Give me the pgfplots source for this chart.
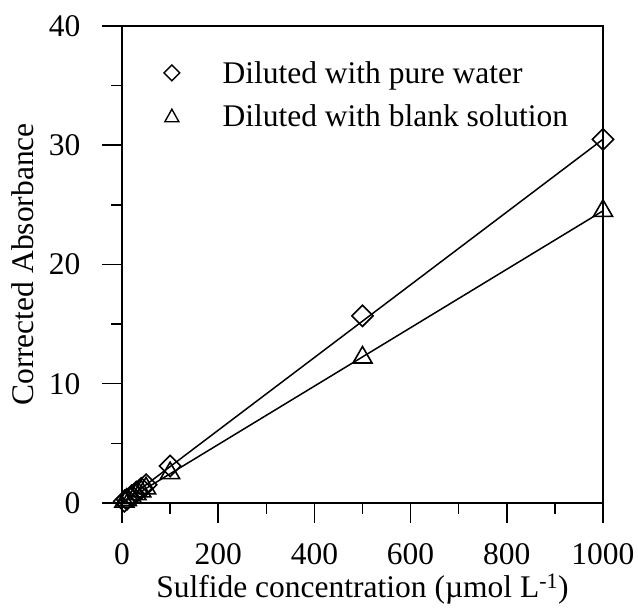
\documentclass[border=0pt]{standalone}
\usepackage{pgfplots}
\pgfplotsset{compat=1.18}
\usepackage{fontspec}
\setmainfont{Liberation Serif}

% calibration data: corrected absorbance vs sulfide concentration
\pgfplotstableread{
x    y
5    0.15
10   0.31
20   0.61
30   0.92
40   1.22
50   1.53
100  3.1
500  15.7
1000 30.5
}\purewater
\pgfplotstableread{
x    y
5    0.12
10   0.25
20   0.49
30   0.74
40   0.98
50   1.23
100  2.5
500  12.2
1000 24.5
}\blanksol

\begin{document}
\begin{tikzpicture}
\begin{axis}[
  scale only axis,
  width=481pt, height=477pt,
  xmin=0, xmax=1000, ymin=0, ymax=40,
  xtick={0,200,...,1000},
  minor xtick={100,300,...,900},
  ytick={0,10,...,40},
  minor ytick={5,15,25,35},
  xtick pos=bottom, ytick pos=left,
  xtick align=outside, ytick align=outside,
  major tick length=20pt,
  minor tick length=11pt,
  every tick/.append style={line width=1.5pt, black},
  axis line style={line width=1.5pt},
  /pgf/number format/assume math mode=true,
  /pgf/number format/1000 sep={},
  ticklabel style={font=\fontsize{31.5}{36}\selectfont},
  xticklabel style={yshift=-17pt},
  yticklabel style={xshift=-18pt},
  label style={font=\fontsize{31.5}{36}\selectfont},
  xlabel={Sulfide concentration (µmol L\textsuperscript{-1})},
  ylabel={Corrected Absorbance},
  xlabel style={yshift=-2pt},
  ylabel style={yshift=8pt},
  clip=false,
  legend style={draw=none, fill=none, at={(rel axis cs:0,1)}, anchor=north west,
    xshift=41pt, yshift=-33pt, inner sep=0pt,
    font=\fontsize{31.5}{36}\selectfont, row sep=16pt},
  legend cell align=left,
]
% fitted lines
\addplot[black, line width=1.5pt, forget plot] coordinates {(0,0) (1000,30.5)};
\addplot[black, line width=1.5pt, forget plot] coordinates {(0,0) (1000,24.5)};
% measured points
\addplot[only marks, mark=square, mark size=7.5pt, mark options={rotate=45, line width=1.6pt, fill=none},
  legend image code/.code={\draw[line width=1.5pt, rotate=45] (-5.6pt,-5.6pt) rectangle (5.6pt,5.6pt);}]
  table[x=x, y=y] {\purewater};
\addlegendentry{\hspace{40pt}Diluted with pure water}
\addplot[only marks, mark=triangle, mark size=11pt, mark options={line width=1.6pt, fill=none},
  legend image code/.code={\draw[line width=1.4pt] (-7pt,-5.5pt) -- (7pt,-5.5pt) -- (0pt,7pt) -- cycle;}]
  table[x=x, y=y] {\blanksol};
\addlegendentry{\hspace{40pt}Diluted with blank solution}
\end{axis}
\pgfresetboundingbox
\path ([xshift=-122pt,yshift=-112pt]current axis.south west) rectangle ([xshift=35pt,yshift=26pt]current axis.north east);
\end{tikzpicture}
\end{document}
